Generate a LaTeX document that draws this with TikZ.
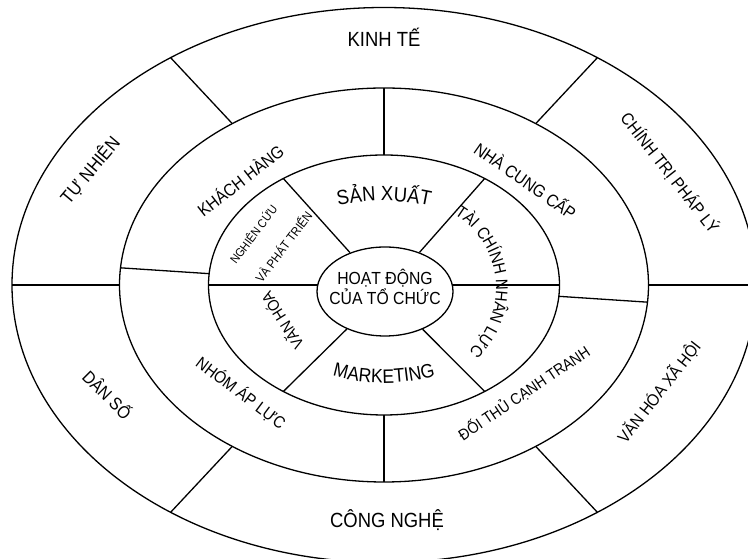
\documentclass[tikz,border=0pt]{standalone}
\usepackage{fontspec}
\setmainfont{Liberation Sans}[FakeStretch=0.9]
\usetikzlibrary{shapes.geometric,decorations.text}
\begin{document}
\begin{tikzpicture}[x=1pt,y=1pt,
  ring/.style={line width=1.3pt, black},
  lbl/.style={inner sep=0pt, font=\fontsize{#1}{#1}\selectfont}]
\useasboundingbox (0,0) rectangle (748,559);
\clip (0,0) rectangle (748,559);
\coordinate (O) at (384,274);
% rings
\draw[ring] (O) ellipse [x radius=372, y radius=277.5];
\draw[ring] (O) ellipse [x radius=264.5, y radius=197];
\draw[ring] (O) ellipse [x radius=175.5, y radius=130];
\node[draw, ring, ellipse, minimum width=136, minimum height=89, inner sep=0pt] (core) at (385,267.5) {};
% points on the ellipses
\foreach \a/\n in {0/a,55/b,125/c,180/d,235/e,305/f} {
  \coordinate (o\n) at ([shift={(O)}]\a:372 and 277.5);
  \coordinate (m\n) at ([shift={(O)}]\a:264.5 and 197);
  \coordinate (i\n) at ([shift={(O)}]\a:175.5 and 130);
}
\foreach \a/\n in {90/t,-5/r,270/u,175/l} {
  \coordinate (mm\n) at ([shift={(O)}]\a:264.5 and 197);
  \coordinate (ii\n) at ([shift={(O)}]\a:175.5 and 130);
}
\coordinate (cr) at (452.3,274);
\coordinate (cl) at (317.7,274);
% outer ring dividers
\foreach \n in {a,b,c,d,e,f} \draw[ring] (m\n) -- (o\n);
% middle ring dividers
\foreach \n in {t,r,u,l} \draw[ring] (ii\n) -- (mm\n);
% inner ring dividers
\foreach \n in {b,c,e,f} \draw[ring] (i\n) -- (core);
\draw[ring] (cr) -- (ia);
\draw[ring] (cl) -- (id);
% centre text
\node[inner sep=0pt, align=center, font=\fontsize{17.5}{20}\selectfont] (hd) at (385,272.5) {HOẠT ĐỘNG\\CỦA TỔ CHỨC};
% outer labels
\node[lbl=20.5] (kt) at (384,521.5) {KINH TẾ};
\node[lbl=20.5] (cn) at (387,39) {CÔNG NGHỆ};
\node[lbl=18.5, rotate=50] (tn) at (90,389) {TỰ NHIÊN};
\node[lbl=17.2, rotate=-52] (ct) at (670,386) {CHÍNH TRỊ PHÁP LÝ};
\node[lbl=17.5, rotate=-45] (ds) at (108,165) {DÂN SỐ};
\node[lbl=16.8, rotate=52] (vx) at (659,167) {VĂN HÓA XÃ HỘI};
% middle labels
\node[lbl=17.3, rotate=38] (kh) at (240,379) {KHÁCH HÀNG};
\node[lbl=17.3, rotate=-35] (nc) at (526,379) {NHÀ CUNG CẤP};
\node[lbl=16.8, rotate=-37] (na) at (241,166) {NHÓM ÁP LỰC};
\node[lbl=15.7, rotate=34] (dt) at (524,166) {ĐỐI THỦ CẠNH TRANH};
% inner labels
\node[lbl=12, rotate=53] (ng) at (253,325) {NGHIÊN CỨU};
\node[lbl=12.5, rotate=53] (vp) at (283,312.5) {VÀ PHÁT TRIỂN};
\node[lbl=16, rotate=122] (vh) at (281.5,238) {VĂN HÓA};
\path[decorate, decoration={text along path, text align=center,
    text={|\fontsize{20.5}{20.5}\selectfont|SẢN XUẤT}}]
  ([shift={(O)}]135:135 and 84) arc[start angle=135, end angle=45, x radius=135, y radius=84];
\path[decorate, decoration={text along path, text align=center,
    text={|\fontsize{19.5}{19.5}\selectfont|MARKETING}}]
  ([shift={(O)}]225:136 and 98) arc[start angle=225, end angle=315, x radius=136, y radius=98];
\path[decorate, decoration={text along path, text align=center,
    text={|\fontsize{16.8}{16.8}\selectfont|TÀI CHÍNH NHÂN LỰC}}]
  ([shift={(410,271)}]75:86) arc[start angle=75, end angle=-63, radius=86];
\end{tikzpicture}
\end{document}
